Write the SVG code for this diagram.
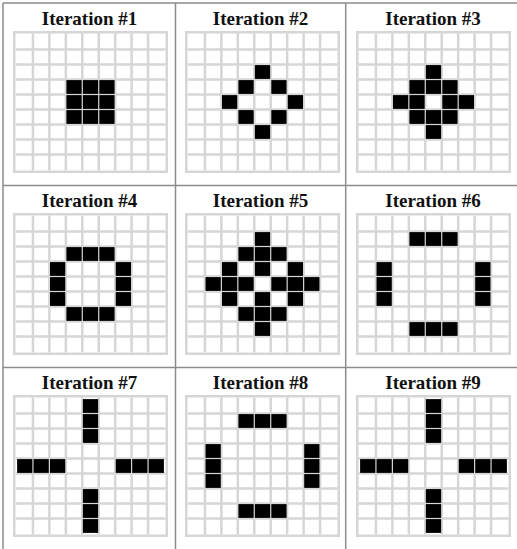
<svg xmlns="http://www.w3.org/2000/svg" xmlns:xlink="http://www.w3.org/1999/xlink" width="517" height="549" viewBox="0 0 517 549">
<style>
.title{font-family:'Liberation Serif','DejaVu Serif',serif;font-weight:bold;font-size:19px;fill:#111;text-anchor:middle}
.rule{stroke:#8c8c8c;stroke-width:1.5;fill:none}
.gl{stroke:#d6d6d6;stroke-width:2.5;fill:none}
.on{fill:#000}
</style>
<defs>
<g id="grid">
<rect x="1.25" y="1.25" width="152.5" height="139.5" fill="#fff" class="gl"/>
<path class="gl" d="M19.94 2.5V139.5M36.39 2.5V139.5M52.83 2.5V139.5M69.28 2.5V139.5M85.72 2.5V139.5M102.17 2.5V139.5M118.61 2.5V139.5M135.06 2.5V139.5M2.5 18.5H152.5M2.5 33.5H152.5M2.5 48.5H152.5M2.5 63.5H152.5M2.5 78.5H152.5M2.5 93.5H152.5M2.5 108.5H152.5M2.5 123.5H152.5"/>
</g>
<rect id="c" class="on" width="15.24" height="13.8"/>
</defs>
<rect width="517" height="549" fill="#fff"/>
<g id="table-lines">
<path class="rule" d="M3 3H517M3 3V549M175.5 3V549M345.7 3V549M3 185.5H517M3 367.5H517"/>
</g>
<g id="iteration-1" transform="translate(13,31)">
<text class="title" font-family="Liberation Serif, DejaVu Serif, serif" x="76.5" y="-6">Iteration #1</text>
<use xlink:href="#grid"/>
<use xlink:href="#c" x="53.43" y="49.1"/><use xlink:href="#c" x="69.88" y="49.1"/><use xlink:href="#c" x="86.32" y="49.1"/>
<use xlink:href="#c" x="53.43" y="64.1"/><use xlink:href="#c" x="69.88" y="64.1"/><use xlink:href="#c" x="86.32" y="64.1"/>
<use xlink:href="#c" x="53.43" y="79.1"/><use xlink:href="#c" x="69.88" y="79.1"/><use xlink:href="#c" x="86.32" y="79.1"/>
</g>
<g id="iteration-2" transform="translate(185,31)">
<text class="title" font-family="Liberation Serif, DejaVu Serif, serif" x="75.5" y="-6">Iteration #2</text>
<use xlink:href="#grid"/>
<use xlink:href="#c" x="69.88" y="34.1"/>
<use xlink:href="#c" x="53.43" y="49.1"/><use xlink:href="#c" x="86.32" y="49.1"/>
<use xlink:href="#c" x="36.99" y="64.1"/><use xlink:href="#c" x="102.77" y="64.1"/>
<use xlink:href="#c" x="53.43" y="79.1"/><use xlink:href="#c" x="86.32" y="79.1"/>
<use xlink:href="#c" x="69.88" y="94.1"/>
</g>
<g id="iteration-3" transform="translate(356,31)">
<text class="title" font-family="Liberation Serif, DejaVu Serif, serif" x="77" y="-6">Iteration #3</text>
<use xlink:href="#grid"/>
<use xlink:href="#c" x="69.88" y="34.1"/>
<use xlink:href="#c" x="53.43" y="49.1"/><use xlink:href="#c" x="69.88" y="49.1"/><use xlink:href="#c" x="86.32" y="49.1"/>
<use xlink:href="#c" x="36.99" y="64.1"/><use xlink:href="#c" x="53.43" y="64.1"/><use xlink:href="#c" x="86.32" y="64.1"/><use xlink:href="#c" x="102.77" y="64.1"/>
<use xlink:href="#c" x="53.43" y="79.1"/><use xlink:href="#c" x="69.88" y="79.1"/><use xlink:href="#c" x="86.32" y="79.1"/>
<use xlink:href="#c" x="69.88" y="94.1"/>
</g>
<g id="iteration-4" transform="translate(13,213)">
<text class="title" font-family="Liberation Serif, DejaVu Serif, serif" x="76.5" y="-6">Iteration #4</text>
<use xlink:href="#grid"/>
<use xlink:href="#c" x="53.43" y="34.1"/><use xlink:href="#c" x="69.88" y="34.1"/><use xlink:href="#c" x="86.32" y="34.1"/>
<use xlink:href="#c" x="36.99" y="49.1"/><use xlink:href="#c" x="102.77" y="49.1"/>
<use xlink:href="#c" x="36.99" y="64.1"/><use xlink:href="#c" x="102.77" y="64.1"/>
<use xlink:href="#c" x="36.99" y="79.1"/><use xlink:href="#c" x="102.77" y="79.1"/>
<use xlink:href="#c" x="53.43" y="94.1"/><use xlink:href="#c" x="69.88" y="94.1"/><use xlink:href="#c" x="86.32" y="94.1"/>
</g>
<g id="iteration-5" transform="translate(185,213)">
<text class="title" font-family="Liberation Serif, DejaVu Serif, serif" x="75.5" y="-6">Iteration #5</text>
<use xlink:href="#grid"/>
<use xlink:href="#c" x="69.88" y="19.1"/>
<use xlink:href="#c" x="53.43" y="34.1"/><use xlink:href="#c" x="69.88" y="34.1"/><use xlink:href="#c" x="86.32" y="34.1"/>
<use xlink:href="#c" x="36.99" y="49.1"/><use xlink:href="#c" x="69.88" y="49.1"/><use xlink:href="#c" x="102.77" y="49.1"/>
<use xlink:href="#c" x="20.54" y="64.1"/><use xlink:href="#c" x="36.99" y="64.1"/><use xlink:href="#c" x="53.43" y="64.1"/><use xlink:href="#c" x="86.32" y="64.1"/><use xlink:href="#c" x="102.77" y="64.1"/><use xlink:href="#c" x="119.21" y="64.1"/>
<use xlink:href="#c" x="36.99" y="79.1"/><use xlink:href="#c" x="69.88" y="79.1"/><use xlink:href="#c" x="102.77" y="79.1"/>
<use xlink:href="#c" x="53.43" y="94.1"/><use xlink:href="#c" x="69.88" y="94.1"/><use xlink:href="#c" x="86.32" y="94.1"/>
<use xlink:href="#c" x="69.88" y="109.1"/>
</g>
<g id="iteration-6" transform="translate(356,213)">
<text class="title" font-family="Liberation Serif, DejaVu Serif, serif" x="77" y="-6">Iteration #6</text>
<use xlink:href="#grid"/>
<use xlink:href="#c" x="53.43" y="19.1"/><use xlink:href="#c" x="69.88" y="19.1"/><use xlink:href="#c" x="86.32" y="19.1"/>
<use xlink:href="#c" x="20.54" y="49.1"/><use xlink:href="#c" x="119.21" y="49.1"/>
<use xlink:href="#c" x="20.54" y="64.1"/><use xlink:href="#c" x="119.21" y="64.1"/>
<use xlink:href="#c" x="20.54" y="79.1"/><use xlink:href="#c" x="119.21" y="79.1"/>
<use xlink:href="#c" x="53.43" y="109.1"/><use xlink:href="#c" x="69.88" y="109.1"/><use xlink:href="#c" x="86.32" y="109.1"/>
</g>
<g id="iteration-7" transform="translate(13,395)">
<text class="title" font-family="Liberation Serif, DejaVu Serif, serif" x="76.5" y="-6">Iteration #7</text>
<use xlink:href="#grid"/>
<use xlink:href="#c" x="69.88" y="4.1"/><use xlink:href="#c" x="69.88" y="19.1"/><use xlink:href="#c" x="69.88" y="34.1"/>
<use xlink:href="#c" x="4.1" y="64.1"/><use xlink:href="#c" x="20.54" y="64.1"/><use xlink:href="#c" x="36.99" y="64.1"/>
<use xlink:href="#c" x="102.77" y="64.1"/><use xlink:href="#c" x="119.21" y="64.1"/><use xlink:href="#c" x="135.66" y="64.1"/>
<use xlink:href="#c" x="69.88" y="94.1"/><use xlink:href="#c" x="69.88" y="109.1"/><use xlink:href="#c" x="69.88" y="124.1"/>
</g>
<g id="iteration-8" transform="translate(185,395)">
<text class="title" font-family="Liberation Serif, DejaVu Serif, serif" x="75.5" y="-6">Iteration #8</text>
<use xlink:href="#grid"/>
<use xlink:href="#c" x="53.43" y="19.1"/><use xlink:href="#c" x="69.88" y="19.1"/><use xlink:href="#c" x="86.32" y="19.1"/>
<use xlink:href="#c" x="20.54" y="49.1"/><use xlink:href="#c" x="119.21" y="49.1"/>
<use xlink:href="#c" x="20.54" y="64.1"/><use xlink:href="#c" x="119.21" y="64.1"/>
<use xlink:href="#c" x="20.54" y="79.1"/><use xlink:href="#c" x="119.21" y="79.1"/>
<use xlink:href="#c" x="53.43" y="109.1"/><use xlink:href="#c" x="69.88" y="109.1"/><use xlink:href="#c" x="86.32" y="109.1"/>
</g>
<g id="iteration-9" transform="translate(356,395)">
<text class="title" font-family="Liberation Serif, DejaVu Serif, serif" x="77" y="-6">Iteration #9</text>
<use xlink:href="#grid"/>
<use xlink:href="#c" x="69.88" y="4.1"/><use xlink:href="#c" x="69.88" y="19.1"/><use xlink:href="#c" x="69.88" y="34.1"/>
<use xlink:href="#c" x="4.1" y="64.1"/><use xlink:href="#c" x="20.54" y="64.1"/><use xlink:href="#c" x="36.99" y="64.1"/>
<use xlink:href="#c" x="102.77" y="64.1"/><use xlink:href="#c" x="119.21" y="64.1"/><use xlink:href="#c" x="135.66" y="64.1"/>
<use xlink:href="#c" x="69.88" y="94.1"/><use xlink:href="#c" x="69.88" y="109.1"/><use xlink:href="#c" x="69.88" y="124.1"/>
</g>
</svg>
